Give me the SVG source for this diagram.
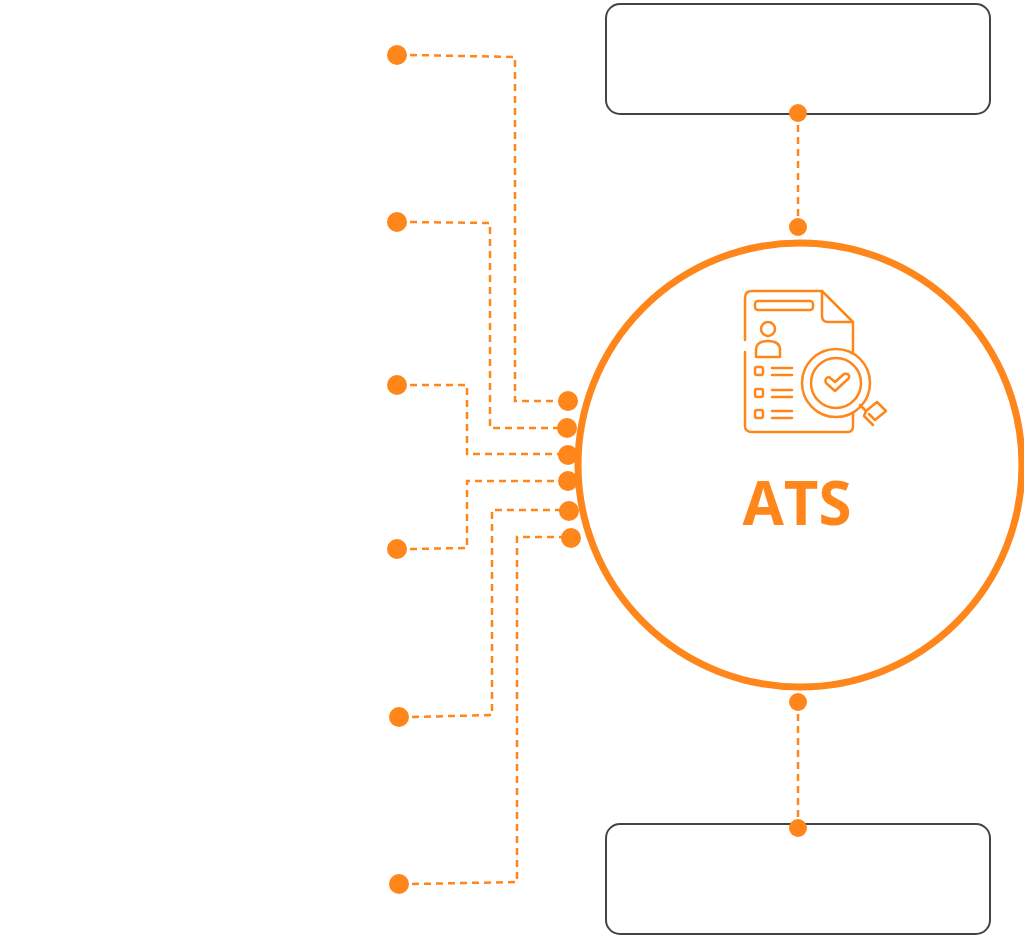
<svg xmlns="http://www.w3.org/2000/svg" width="1024" height="937" viewBox="0 0 1024 937">
<style>
.d{fill:none;stroke:#FF861A;stroke-width:2.5;stroke-dasharray:7 5}
.dot{fill:#FF861A}
.box{fill:#fff;stroke:#444;stroke-width:2}
.ic{fill:none;stroke:#FF861A;stroke-width:2.5;stroke-linecap:round;stroke-linejoin:round}
</style>
<rect width="1024" height="937" fill="#fff"/>
<g id="connectors">
<path class="d" d="M410 55 L515 57 L515 401 L560 401"/>
<path class="d" d="M410 222 L490 223 L490 428 L560 428"/>
<path class="d" d="M410 385 L467 385 L467 454 L560 454"/>
<path class="d" d="M410 549 L467 548 L467 481 L560 481"/>
<path class="d" d="M412 717 L492 715 L492 510 L560 510"/>
<path class="d" d="M412 884 L517 882 L517 537 L562 537"/>
<path class="d" d="M798 113 L798 227"/>
<path class="d" d="M798 702 L798 828"/>
</g>
<g id="box-top"><rect class="box" x="606" y="4" width="384" height="110" rx="14"/></g>
<g id="box-bottom"><rect class="box" x="606" y="824" width="384" height="110" rx="14"/></g>
<g id="ats">
<circle cx="800" cy="465" r="222" fill="#fff" stroke="#FF861A" stroke-width="7"/>
<g class="ic">
<path d="M745 340 V298 Q745 291 752 291 H822 L853 322 V352"/>
<path d="M745 352 V426 Q745 432 752 432 H848 Q853 432 853 426 V414"/>
<path d="M822 291 V316 Q822 322 828 322 H853"/>
<rect x="755" y="301" width="58" height="9" rx="3"/>
<circle cx="768" cy="329" r="7"/>
<path d="M756 357 V350 Q756 341 768 341 Q780 341 780 350 V357 Z"/>
<rect x="755" y="367" width="8" height="8" rx="2"/><path d="M772 368 H792 M772 375 H792"/>
<rect x="755" y="389" width="8" height="8" rx="2"/><path d="M772 390 H792 M772 397 H792"/>
<rect x="755" y="410" width="8" height="8" rx="2"/><path d="M772 411 H792 M772 418 H792"/>
<circle cx="836" cy="383" r="34"/>
<circle cx="836" cy="383" r="25"/>
<path d="M826 383 Q824 378 829 377 L835 382 L844 374 Q850 373 849 378 L835 391 Z"/>
<path d="M860 405 L866 411 L877 402 L886 411 L875 420 L869 414 M866 411 L864 416 L873 425"/>
</g>
<text x="797" y="525" text-anchor="middle" font-family="Open Sans, Liberation Sans, sans-serif" font-weight="bold" font-size="60" fill="#FF861A">ATS</text>
</g>
<g id="dots">
<circle class="dot" cx="397" cy="55" r="10"/>
<circle class="dot" cx="397" cy="222" r="10"/>
<circle class="dot" cx="397" cy="385" r="10"/>
<circle class="dot" cx="397" cy="549" r="10"/>
<circle class="dot" cx="399" cy="717" r="10"/>
<circle class="dot" cx="399" cy="884" r="10"/>
<circle class="dot" cx="568" cy="401" r="10"/>
<circle class="dot" cx="567" cy="428" r="10"/>
<circle class="dot" cx="568" cy="455" r="10"/>
<circle class="dot" cx="568" cy="481" r="10"/>
<circle class="dot" cx="569" cy="511" r="10"/>
<circle class="dot" cx="571" cy="538" r="10"/>
<circle class="dot" cx="798" cy="113" r="9"/>
<circle class="dot" cx="798" cy="227" r="9"/>
<circle class="dot" cx="798" cy="702" r="9"/>
<circle class="dot" cx="798" cy="828" r="9"/>
</g>
</svg>
